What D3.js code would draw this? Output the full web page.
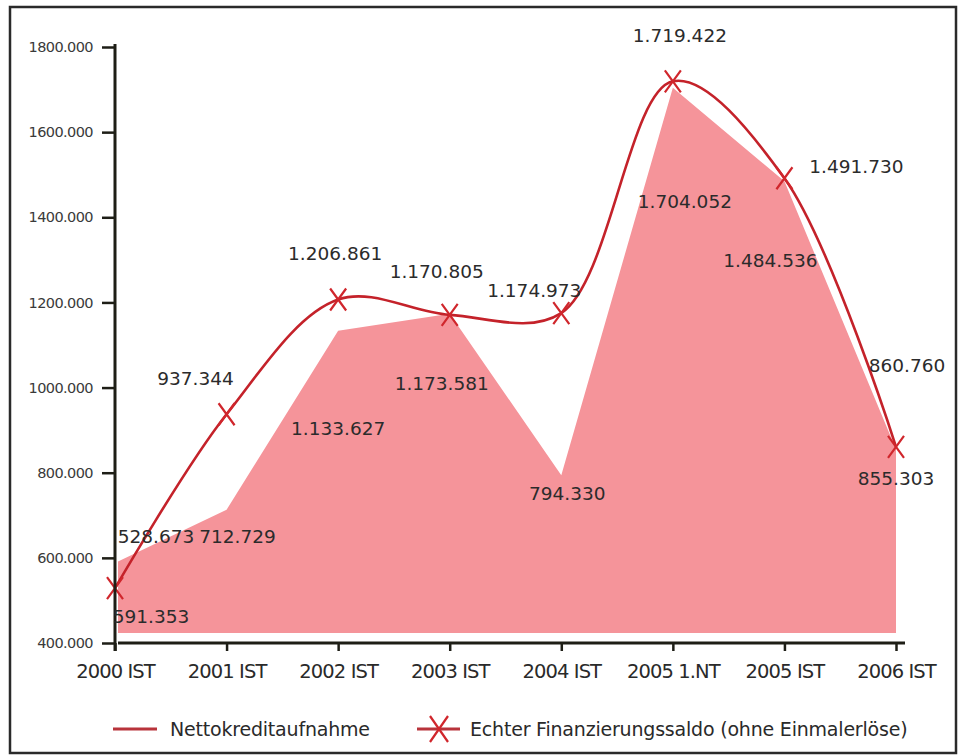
<!DOCTYPE html>
<html>
<head>
<meta charset="utf-8">
<script src="https://cdn.jsdelivr.net/npm/d3@7"></script>
<style>
  body { margin: 0; background: #fff; }
  #chart text { font-family: 'DejaVu Sans', sans-serif; }
</style>
</head>
<body>
<div id="chart"></div>
<script>
// Nettokreditaufnahme vs. Echter Finanzierungssaldo

const categories = ['2000 IST', '2001 IST', '2002 IST', '2003 IST', '2004 IST', '2005 1.NT', '2005 IST', '2006 IST'];
const saldoValues = [528673, 937344, 1206861, 1170805, 1174973, 1719422, 1491730, 860760];   // line with X markers
const kreditValues = [591353, 712729, 1133627, 1173581, 794330, 1704052, 1484536, 855303];   // pink area
const yTicks = [400000, 600000, 800000, 1000000, 1200000, 1400000, 1600000, 1800000];
const yTickLabels = ['400.000', '600.000', '800.000', '1000.000', '1200.000', '1400.000', '1600.000', '1800.000'];
const legendLabels = ['Nettokreditaufnahme', 'Echter Finanzierungssaldo (ohne Einmalerlöse)'];

// label nudges (px) relative to each point
const saldoNudge = [[41, -45], [-31, -29], [-3, -40], [-13, -37], [-27, -16], [7, -39], [72, -5], [11, -75]];
const kreditNudge = [[36, 61], [11, 33], [0, 104], [-8, 76], [6, 25], [12, 120], [-14, 86], [0, 36]];

function drawChart() {
    const W = 963, H = 756;
    const container = d3.select('#chart');
    container.html('');

    const svg = container.append('svg')
        .attr('width', W)
        .attr('height', H);

    const deFormat = d3.formatLocale({ decimal: ',', thousands: '.', grouping: [3], currency: ['', '€'] }).format(',');

    // Frame
    svg.append('rect')
        .attr('x', 10).attr('y', 7)
        .attr('width', 946).attr('height', 746)
        .attr('fill', '#fff')
        .attr('stroke', '#2a2a2a')
        .attr('stroke-width', 2.5);

    // Scales
    const x = d3.scalePoint()
        .domain(categories)
        .range([115, 896]);

    const y = d3.scaleLinear()
        .domain([400000, 1800000])
        .range([643, 47]);

    const labelColor = '#2b2b2b';
    const lineColor = '#c4222a';
    const areaColor = '#f5949a';

    // Area (Nettokreditaufnahme)
    const area = d3.area()
        .x((d, i) => x(categories[i]) + (i === 0 ? 3 : 0))
        .y0(y(400000) - 10)
        .y1(d => y(d));

    svg.append('path')
        .datum(kreditValues)
        .attr('fill', areaColor)
        .attr('d', area);

    // Smoothed line (Echter Finanzierungssaldo)
    const line = d3.line()
        .x((d, i) => x(categories[i]))
        .y(d => y(d))
        .curve(d3.curveCatmullRom.alpha(0.5));

    svg.append('path')
        .datum(saldoValues)
        .attr('fill', 'none')
        .attr('stroke', lineColor)
        .attr('stroke-width', 2.6)
        .attr('d', line);

    // X markers
    const marker = svg.selectAll('.mark')
        .data(saldoValues)
        .enter()
        .append('g')
        .attr('class', 'mark')
        .attr('transform', (d, i) => `translate(${x(categories[i])},${y(d)})`);

    marker.append('path')
        .attr('d', 'M-8,-11L8,11M8,-11L-8,11')
        .attr('stroke', '#d0262c')
        .attr('stroke-width', 2.2)
        .attr('fill', 'none');

    // Y axis
    const yAxis = svg.append('g')
        .attr('transform', 'translate(115,0)')
        .call(d3.axisLeft(y)
            .tickValues(yTicks)
            .tickSize(13)
            .tickPadding(9)
            .tickFormat((d, i) => yTickLabels[i]));

    yAxis.select('.domain').remove();
    yAxis.selectAll('.tick line')
        .attr('stroke', '#1e1e16')
        .attr('stroke-width', 2.5);
    yAxis.selectAll('.tick text')
        .attr('fill', '#3a3a3a')
        .attr('font-size', '14.5px')
        .attr('letter-spacing', '-0.6px');

    svg.append('line')
        .attr('x1', 115).attr('x2', 115)
        .attr('y1', y(1800000) - 3)
        .attr('y2', y(400000) + 8)
        .attr('stroke', '#1e1e16')
        .attr('stroke-width', 3);

    // X axis
    const xAxis = svg.append('g')
        .attr('transform', `translate(0,${y(400000)})`)
        .call(d3.axisBottom(x).tickSize(8).tickPadding(13));

    xAxis.select('.domain').remove();
    xAxis.selectAll('.tick line')
        .attr('stroke', '#1e1e16')
        .attr('stroke-width', 2.5);
    xAxis.selectAll('.tick text')
        .attr('fill', '#2a2a2a')
        .attr('font-size', '19.5px')
        .attr('letter-spacing', '-0.9px');

    svg.append('line')
        .attr('x1', 118).attr('x2', 905)
        .attr('y1', y(400000)).attr('y2', y(400000))
        .attr('stroke', '#1e1e16')
        .attr('stroke-width', 3);

    // Data labels
    svg.selectAll('.kredit-label')
        .data(kreditValues)
        .enter()
        .append('text')
        .attr('class', 'kredit-label')
        .attr('x', (d, i) => x(categories[i]) + kreditNudge[i][0])
        .attr('y', (d, i) => y(d) + kreditNudge[i][1])
        .attr('text-anchor', 'middle')
        .attr('fill', labelColor)
        .attr('font-size', '18.5px')
        .text(d => deFormat(d));

    svg.selectAll('.saldo-label')
        .data(saldoValues)
        .enter()
        .append('text')
        .attr('class', 'saldo-label')
        .attr('x', (d, i) => x(categories[i]) + saldoNudge[i][0])
        .attr('y', (d, i) => y(d) + saldoNudge[i][1])
        .attr('text-anchor', 'middle')
        .attr('fill', labelColor)
        .attr('font-size', '18.5px')
        .text(d => deFormat(d));

    // Legend
    const legend = svg.append('g')
        .attr('transform', 'translate(113,729)');

    legend.append('line')
        .attr('x1', 0).attr('x2', 44)
        .attr('y1', 0).attr('y2', 0)
        .attr('stroke', '#b8333b')
        .attr('stroke-width', 3);

    legend.append('text')
        .attr('x', 57).attr('y', 7)
        .attr('fill', '#2a2a2a')
        .attr('font-size', '19px')
        .attr('letter-spacing', '-0.2px')
        .text(legendLabels[0]);

    legend.append('line')
        .attr('x1', 304).attr('x2', 347)
        .attr('y1', 0).attr('y2', 0)
        .attr('stroke', '#b8333b')
        .attr('stroke-width', 3);

    legend.append('path')
        .attr('transform', 'translate(326,0)')
        .attr('d', 'M-9,-13L9,13M9,-13L-9,13')
        .attr('stroke', '#d0262c')
        .attr('stroke-width', 2.2);

    legend.append('text')
        .attr('x', 357).attr('y', 7)
        .attr('fill', '#2a2a2a')
        .attr('font-size', '19px')
        .attr('letter-spacing', '-0.2px')
        .text(legendLabels[1]);
}

if (document.readyState === 'loading') {
    document.addEventListener('DOMContentLoaded', drawChart);
} else {
    drawChart();
}
</script>
</body>
</html>
